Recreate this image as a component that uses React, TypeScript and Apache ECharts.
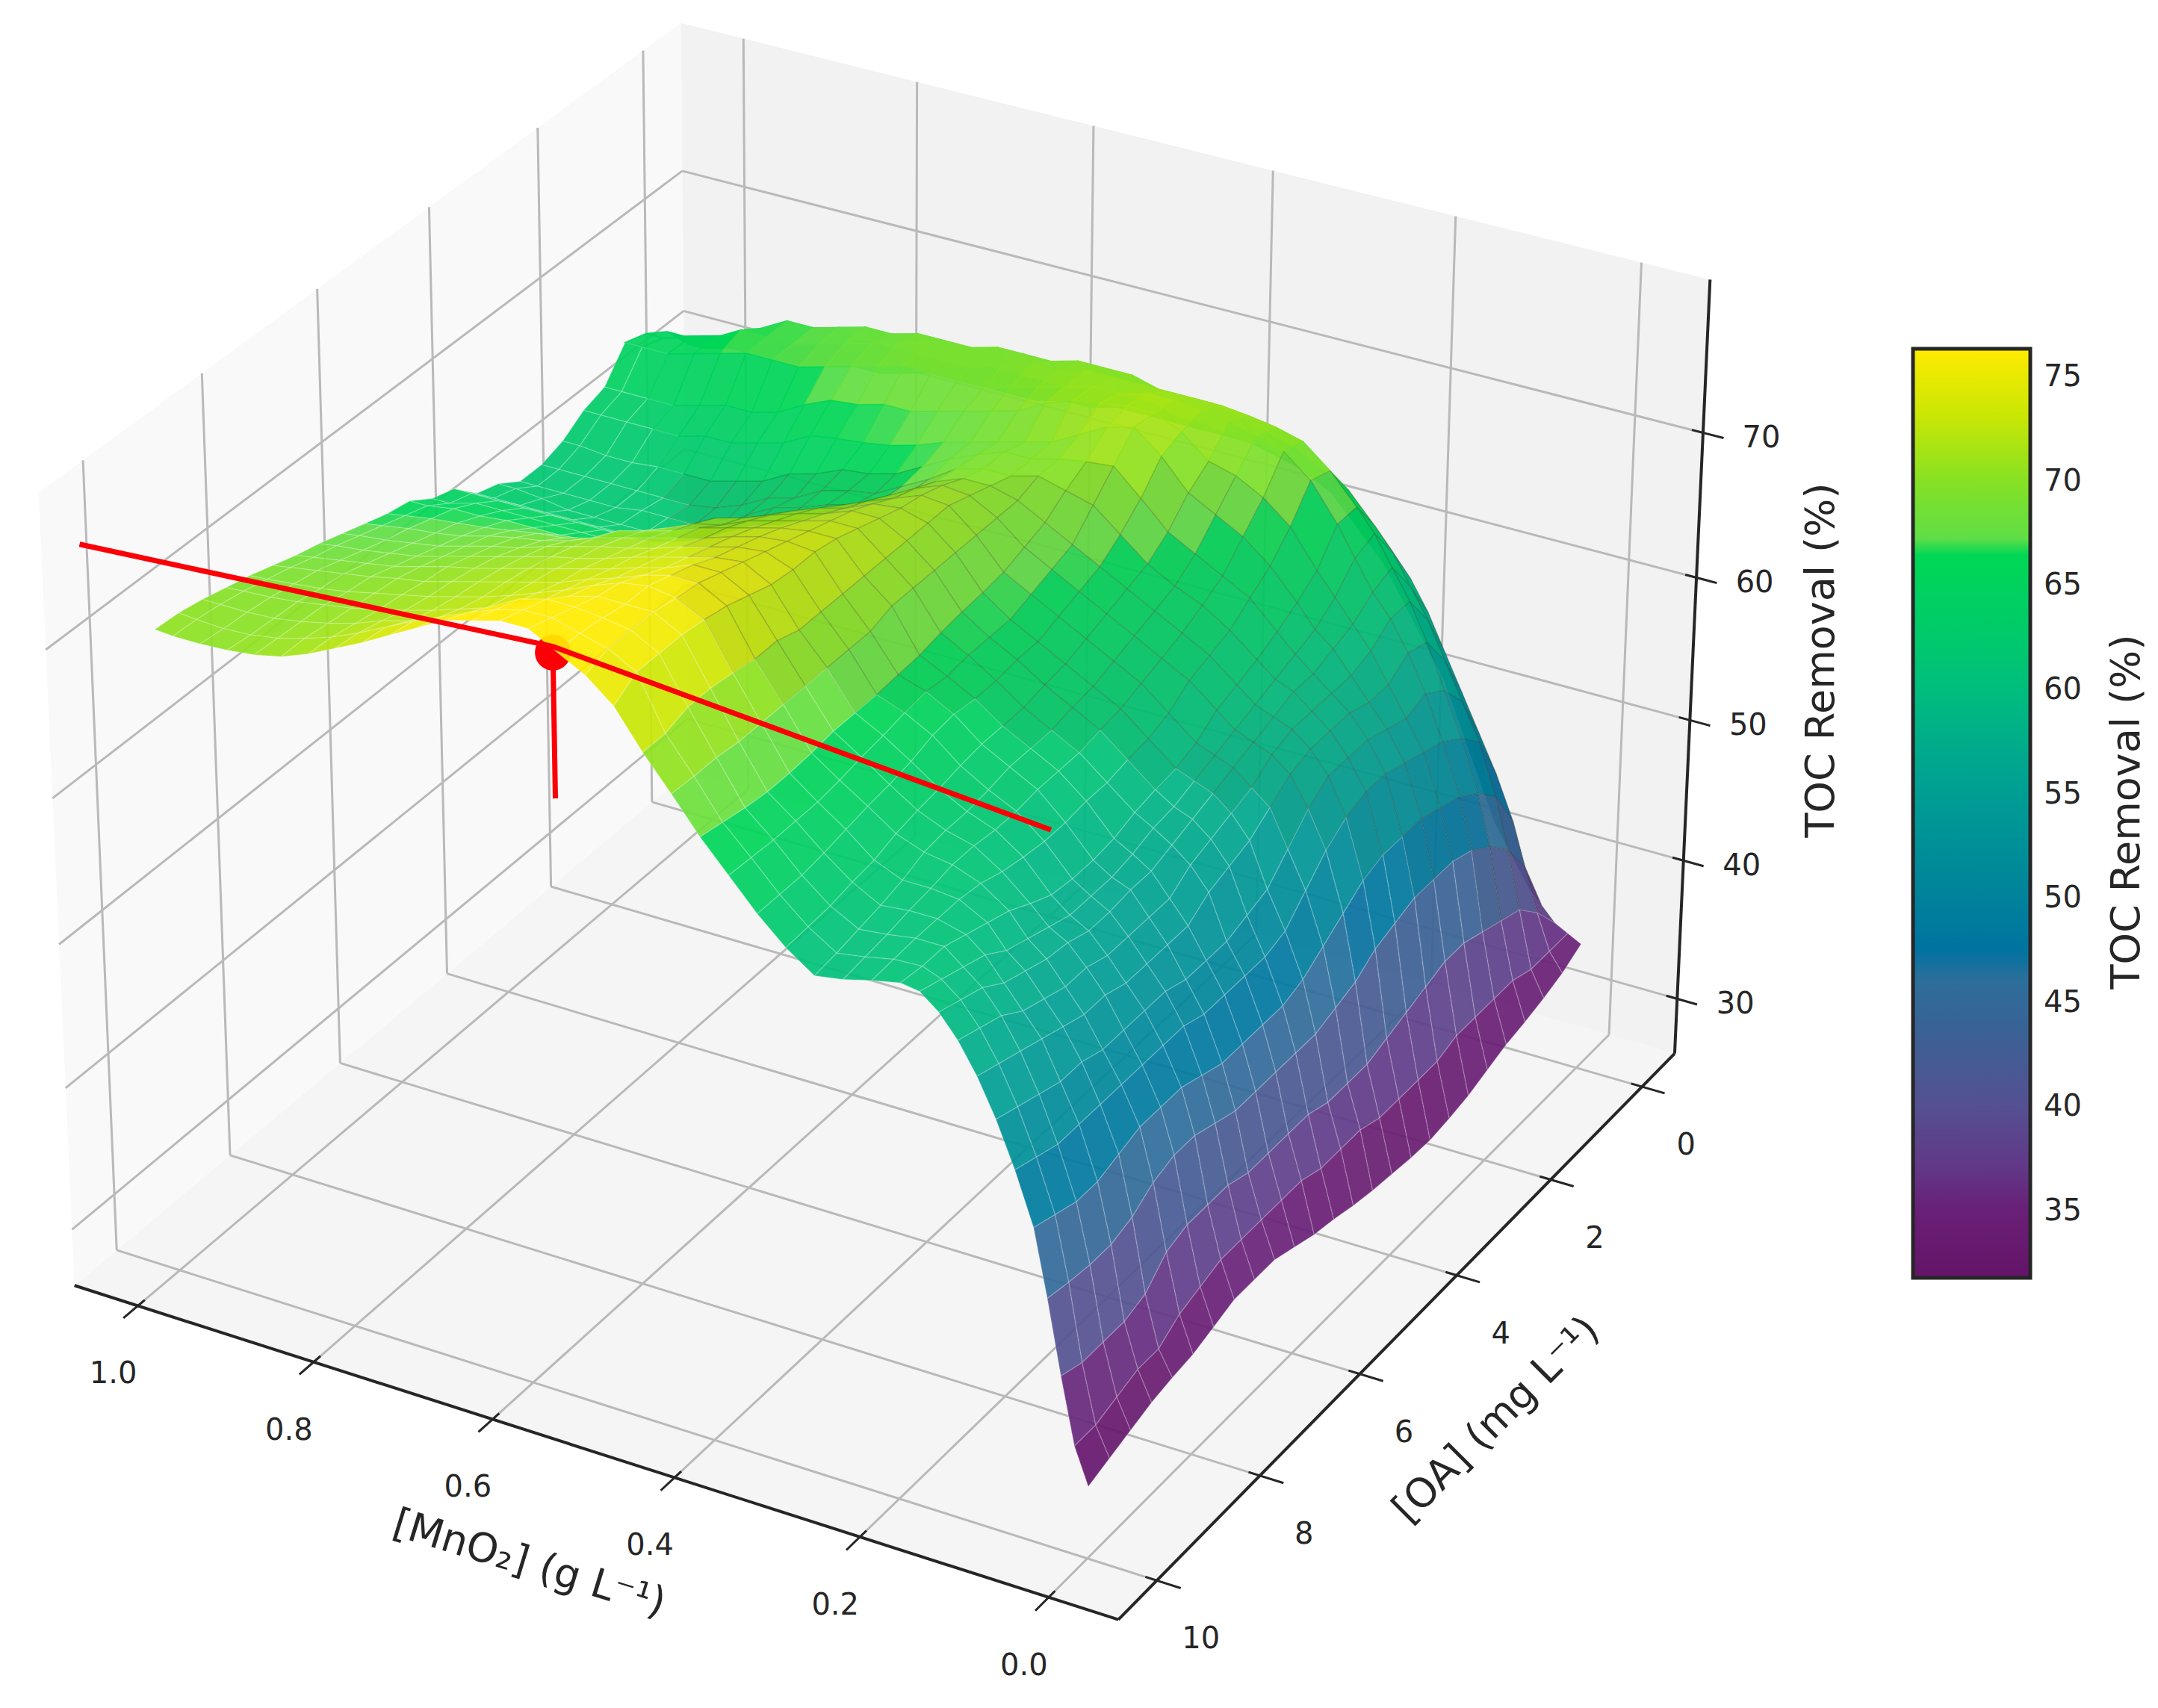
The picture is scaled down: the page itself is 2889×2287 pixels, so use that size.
import React, { useEffect, useRef } from "react";
import * as echarts from "echarts";

const W = 2889, H = 2287;
const xTicks = [0, 0.2, 0.4, 0.6, 0.8, 1.0];
const yTicks = [0, 2, 4, 6, 8, 10];
const zTicks = [30, 40, 50, 60, 70];
const barTicks = [35, 40, 45, 50, 55, 60, 65, 70, 75];
const xLim = [-0.073, 1.073], yLim = [-0.73, 10.73], zLim = [26, 80.4], barLim = [31.74, 76.3];

const mno2 = [0,.015,.03,.045,.06,.08,.1,.12,.14,.16,.18,.2,.23,.26,.29,.32,.35,.38,.41,.44,.47,.5,.53,.56,.59,.62,.65,.68,.71,.74,.77,.8,.83,.86,.89,.92,.95,.98,1];
const oa = [0,.4,.8,1.2,1.6,2,2.4,2.8,3.2,3.6,4,4.4,4.8,5.2,5.6,6,6.4,6.8,7.2,7.6,8,8.4,8.8,9.2,9.6,10];
const toc = [
[35,35.5,36,37,38,40,42,45,48,51, 53,55,58,60,62,63,63.5,64,64,64, 64,64,64,63.5,63.5,63,63,63,63,63, 62.5,62,62,61.5,61,61,61,61,61],
[34.2,35.5,38,41,44,47,49.5,52,54.5,57, 59,60.5,62.5,63.5,64.5,65,65.5,65.5,66,66, 66.5,66.5,66.5,66,66,66,66,65.5,65.5,65.5, 65.5,65.5,65,64.5,64,63,62.5,62,62],
[33.7,35.5,39.5,43.5,47,50.5,53,55.5,58,60, 62,63.5,65.5,66.5,67.5,68,68.5,69,69,69, 69.5,69.5,69.5,69,69,69,68.5,68.5,68.5,68, 68,67.5,67,67,66,65,64.5,64,64],
[33.3,36,40,45,48.5,52,55,58,60.5,62.5, 64.5,66,68,69.5,70,70.3,70.5,70.5,70.5,70.5, 70.5,70.5,70,70,69.5,69.5,69.5,69.5,69,68.5, 68,67.5,67,67,67,66,65.5,65,65],
[33,36,40.5,46,49.5,53,56,58.5,60.5,62, 64,66,68.5,70,70.5,71,71.3,71.5,71.5,71, 71,70.5,70,69.5,69,69,69,69,68.5,68, 67.5,67,67,67,66.5,66,65.5,65.5,65.5],
[32.5,36,41,46.5,50,53.5,55.5,57.5,59.5,61, 62.5,64,66.5,68,69,69.5,71,71.8,71.8,71.5, 71.2,70.5,69.5,69,68.5,68,67.5,67.5,67,66.8, 66,65,64.5,64.5,64,63.5,63.5,63.5,63.5],
[32,36,41,46.5,50.5,54,56,57.5,59,60.5, 61.5,63,65,66.5,67.5,68.5,70.5,72,71.5,70.5, 69.5,69,68.5,68,67.5,66.8,66.3,66,65.8,65.5, 64.5,64,63.5,63.5,63,63,63,63,63],
[31.7,35.5,40.5,46.5,50.5,54.5,56.5,58,59,60, 61,62.2,64,65,66,67,68.8,70.5,70.3,70, 69.5,69.5,68.8,68,67,66,65.5,65.3,64.5,64, 63,62.5,62,62,62,61.8,61.8,62,62],
[31.5,35.5,40,46,50.5,54.5,56.5,58,59,60, 60.5,61.5,63,64.2,65,66,67.5,69,69.5,70, 69.5,69.5,69,67.8,66.8,65.8,65.5,65,64,63.5, 62.5,61.8,61.5,61.5,61.5,61.5,61.5,61.5,61.5],
[31.6,35.5,39.5,45.5,50,54,56.5,58,59,59.5, 60,61,62.5,63.5,64.5,65.5,66.5,67.5,68.5,69.5, 70,70,69.3,68,67,66.2,65.7,65,64.5,63.5, 62.3,61.8,61.8,61.8,61.5,61.5,61.5,61.5,61.5],
[31.8,35.5,39,44.5,49,53,55.5,57.5,58.5,59, 59.5,60.5,62,63,64,65,66,67,68,69.5, 70.5,70.7,70,69,68,67,66,65,64.5,63.5, 62.5,62,62,62,62,62,62.3,62.5,62.5],
[32,36,39,44,48,51.5,54,56.5,57.5,58.5, 59,59.5,61,62.5,63.5,64.5,65.5,66.5,67.5,69.5, 71,71.2,70.5,69.8,69,68,67,66.5,66,65, 63.5,63,63,63,63,63,63,63,63],
[32.3,36,39,43.5,47,50,52.5,55.5,57,58, 58.5,59,60.5,62,63,64,65,66,67.3,69.5, 71,71.5,71.3,70.5,70,69.3,68.5,67.5,66.8,66.3, 65.5,64.5,64.5,64.5,64.5,64.5,64.5,64.5,64.5],
[32.7,36,39.5,43.5,46.5,49.5,52,55,56.5,57.5, 58,58.8,60.3,61.8,62.8,63.8,65,66,67.2,69.5, 71,72,72,71.3,70.8,70.2,69.5,69,68,67, 66.5,65.5,65.5,65.5,65.5,65.5,65.5,65,65],
[33,36.5,39.5,43.5,46.5,49.5,51.5,54.5,56,57, 57.8,58.5,60,61.5,62.5,63.5,64.8,66,67,69.5, 71,72.5,72.5,72,71.5,71,70.2,69.8,69,68.3, 67.5,66.7,66.5,66.5,66.5,66.3,66.3,66,66],
[33.5,36.5,39.5,43.5,46.5,49.5,51.5,53.5,55,56.5, 57.3,58,60,61.5,62.5,63.5,64.8,65.8,66.7,69.5, 71,73,73,72.7,72.2,71.7,71.2,70.5,70,69.5, 68.5,68,67.8,67.5,67.2,67,66.8,66.5,66.3],
[34,36.5,39.5,43.5,46.5,49.5,51.5,53.5,55,56.5, 57,57.8,59.8,61.5,62.5,63.5,65,66,66.6,69, 71,73.3,73.5,73.3,72.8,72.2,71.7,71.2,70.7,70.2, 69.5,69,68.7,68.3,67.8,67.5,67.3,67,66.8],
[34,36.5,40,44,47,50,52,53.5,55,56.3, 57,57.8,59.8,61.3,62.2,63.3,64.8,65.8,66.5,69, 71,73.3,74,73.8,73.3,72.8,72.2,71.7,71.3,70.8, 70.3,69.7,69.3,68.8,68.3,68,67.7,67.5,67.3],
[34,36.5,40,44.5,47.5,50,52,53.5,55,56.3, 57,58,60,61.3,62,63,64.3,65.5,66.5,69, 71,73.5,74.5,74.3,73.8,73.3,72.8,72.2,71.7,71.3, 70.8,70.3,69.8,69.3,68.8,68.5,68.2,68,67.8],
[33.5,36,40,44.5,47.5,50,52,54,55.5,56.8, 57.5,58.7,60.3,61.5,62,62.8,64,65.3,66.5,69, 71.5,74,75,75,74.3,73.8,73.2,72.7,72.2,71.7, 71.2,70.7,70.3,69.8,69.3,69,68.7,68.4,68.2],
[33,35.5,39.5,44,47.5,50,52,54,55.5,57, 58,59.5,60.8,61.5,61.8,62.5,63.8,65,66.3,69, 71.5,74.5,75.5,75.5,75,74.3,73.7,73,72.5,72, 71.5,71,70.5,70.2,69.8,69.5,69.2,68.9,68.7],
[32.8,34.5,38,43,47,50,52.5,54.5,56,57.5, 58.5,60,61,61.2,61.2,62,63.5,64.8,66.2,69, 71.8,74.8,75.7,76,75.7,75,74.2,73.5,72.8,72.2, 71.7,71.2,70.8,70.4,70,69.7,69.5,69.3,69.2],
[32.5,34.5,37.5,42.5,46.5,50,52.5,55,56.5,58, 59.5,60.5,61,61,60.8,61.8,63.2,64.8,66.2,69, 72,75,76,76,76,75.5,74.7,74,73.2,72.6, 72,71.5,71,70.6,70.3,70,69.8,69.7,69.6],
[32,34,37.5,42.5,46.5,50,53,55.5,57.5,59, 60,61,61,60.7,60.5,61.5,63,64.8,66.4,69.2, 72,75,76,76.3,76.5,76.5,76,75,74,73.2, 72.5,72,71.3,70.8,70.4,70.1,70,70,70],
[31.5,33.5,37.5,42.7,47,50.5,53.5,56,58,59.5, 60.5,61,60.9,60.5,60.2,61.4,63,64.9,66.7,69.2, 71.5,75,76,76.5,77,77,76.5,75.8,75,74.2, 73.3,72.4,71.6,71,70.5,70.2,70.1,70.2,70.3],
[31,33.5,38,43,47.5,51,54,56.5,58.5,60, 61,61.2,60.8,60.3,60,61.3,63,65,67,69.3, 71.5,74,75.5,76.5,77.5,77.5,77,76.5,75.5,74.5, 73.5,72.6,71.7,71,70.6,70.4,70.3,70.3,70.4],
];
const optimumLine = [[1.13, 9.3, 71.8], [0.608, 9.3, 73.9], [0.085, 9.3, 71.1]];
const optimum = [0.608, 9.3, 73.5];
const stemBottom = 63.8;

// colormap of the reference: value, r, g, b
const cmap = [
  [31.74, 100, 20, 105], [35, 105, 32, 118], [37, 98, 55, 135], [40, 85, 80, 145], [44, 55, 100, 150],
  [46, 45, 110, 155], [47.5, 0, 115, 160], [50, 0, 130, 155], [55, 0, 158, 148], [57, 0, 170, 140], [60, 0, 190, 125],
  [62, 0, 200, 110], [66.4, 0, 215, 85], [67.2, 95, 222, 70], [70, 135, 225, 35], [73, 200, 230, 5], [76.3, 255, 235, 0],
];

function colorOf(v: number, k = 1) {
  let i = 0;
  while (i < cmap.length - 2 && v > cmap[i + 1][0]) i++;
  const a = cmap[i], b = cmap[i + 1];
  const t = Math.max(0, Math.min(1, (v - a[0]) / (b[0] - a[0])));
  const c = [1, 2, 3].map((n) => Math.round((a[n] + (b[n] - a[n]) * t) * k));
  return `rgb(${c[0]},${c[1]},${c[2]})`;
}

// camera calibration: cube position -> picture position
const calib: number[][] = [
  [xLim[1], yLim[1], zLim[0], 99.5, 1716], [xLim[0], yLim[1], zLim[0], 1499, 2172], [xLim[0], yLim[0], zLim[0], 2243, 1408],
  [xLim[0], yLim[0], zLim[1], 2289, 384], [xLim[1], yLim[1], zLim[1], 50.5, 662], [xLim[1], yLim[0], zLim[1], 912, 34],
  [xLim[1], yLim[0], zLim[0], 918, 1046],
  [1, yLim[1], zLim[0], 184, 1744], [.8, yLim[1], zLim[0], 421, 1820], [.6, yLim[1], zLim[0], 657.5, 1899],
  [.4, yLim[1], zLim[0], 904, 1978], [.2, yLim[1], zLim[0], 1153, 2058], [0, yLim[1], zLim[0], 1404, 2143],
  [xLim[0], 0, zLim[0], 2195, 1454], [xLim[0], 2, zLim[0], 2074.5, 1580], [xLim[0], 4, zLim[0], 1948, 1708],
  [xLim[0], 6, zLim[0], 1819, 1841], [xLim[0], 8, zLim[0], 1687, 1977], [xLim[0], 10, zLim[0], 1548, 2118],
  [xLim[0], yLim[0], 30, 2248, 1331], [xLim[0], yLim[0], 40, 2254, 1149], [xLim[0], yLim[0], 50, 2263, 962],
  [xLim[0], yLim[0], 60, 2272, 771], [xLim[0], yLim[0], 70, 2280, 579],
  [xLim[1], 0, zLim[0], 875, 1072], [xLim[1], 2, zLim[0], 740, 1197], [xLim[1], yLim[0], 70, 914, 222], [xLim[1], yLim[0], 60, 914, 409],
];
const norm = (x: number, y: number, z: number) => [
  (x - xLim[0]) / (xLim[1] - xLim[0]), (y - yLim[0]) / (yLim[1] - yLim[0]), (z - zLim[0]) / (zLim[1] - zLim[0]),
];
function solveCamera() {
  const n = 11;
  const A = Array.from({ length: n }, () => new Array(n + 1).fill(0));
  const add = (r: number[], b: number) => {
    for (let i = 0; i < n; i++) { for (let j = 0; j < n; j++) A[i][j] += r[i] * r[j]; A[i][n] += r[i] * b; }
  };
  calib.forEach(([x, y, z, px, py]) => {
    const [u, v, w] = norm(x, y, z);
    const a = px / 1000, b = py / 1000;
    add([u, v, w, 1, 0, 0, 0, 0, -a * u, -a * v, -a * w], a);
    add([0, 0, 0, 0, u, v, w, 1, -b * u, -b * v, -b * w], b);
  });
  for (let c = 0; c < n; c++) {
    let p = c;
    for (let r = c + 1; r < n; r++) if (Math.abs(A[r][c]) > Math.abs(A[p][c])) p = r;
    [A[c], A[p]] = [A[p], A[c]];
    for (let r = 0; r < n; r++) {
      if (r === c) continue;
      const f = A[r][c] / A[c][c];
      for (let k = c; k <= n; k++) A[r][k] -= f * A[c][k];
    }
  }
  return A.map((row, i) => row[n] / row[i]);
}
const cam = solveCamera();
function proj(x: number, y: number, z: number) {
  const [u, v, w] = norm(x, y, z);
  const d = cam[8] * u + cam[9] * v + cam[10] * w + 1;
  return [1000 * (cam[0] * u + cam[1] * v + cam[2] * w + cam[3]) / d, 1000 * (cam[4] * u + cam[5] * v + cam[6] * w + cam[7]) / d];
}

// the reference renders one part of the sheet darker, with a dark mesh: its outline in the picture
const lineC = [[955, 909], [1134, 920], [1261, 942], [1363, 972], [1500, 1010], [2113, 1257]];
const lineA = [[851, 454], [876, 527], [922, 711], [953, 910]];
const meshStart = 640;
function along(line: number[][], t: number, a: number, b: number) {
  for (let i = 0; i < line.length - 1; i++) {
    if (t <= line[i + 1][a] || i === line.length - 2) {
      return line[i][b] + ((t - line[i][a]) / (line[i + 1][a] - line[i][a])) * (line[i + 1][b] - line[i][b]);
    }
  }
  return 0;
}
const inDarkPart = (p: number[]) => p[1] < along(lineC, p[0], 0, 1) && p[0] > along(lineA, p[1], 1, 0);

const [x0, x1] = xLim, [y0, y1] = yLim, [z0, z1] = zLim;
type Seg = { a: number[]; b: number[]; color: string; width: number };
const gridColor = "#b9b9b9", inkColor = "#262626", red = "#fb0007";
const segs: Seg[] = [];
const seg = (a: number[], b: number[], color = gridColor, width = 3) => segs.push({ a, b, color, width });
xTicks.forEach((t) => {
  seg(proj(t, y0, z0), proj(t, y1, z0));
  seg(proj(t, y0, z0), proj(t, y0, z1));
});
yTicks.forEach((t) => {
  seg(proj(x0, t, z0), proj(x1, t, z0));
  seg(proj(x1, t, z0), proj(x1, t, z1));
});
zTicks.forEach((t) => {
  seg(proj(x0, y0, t), proj(x1, y0, t));
  seg(proj(x1, y0, t), proj(x1, y1, t));
});
seg(proj(x1, y1, z0), proj(x0, y1, z0), inkColor, 4);
seg(proj(x0, y1, z0), proj(x0, y0, z0), inkColor, 4);
seg(proj(x0, y0, z0), proj(x0, y0, z1), inkColor, 4);
xTicks.forEach((t) => seg(proj(t, y1 - 0.12, z0), proj(t, y1 + 0.25, z0), inkColor, 3));
yTicks.forEach((t) => seg(proj(x0 + 0.012, t, z0), proj(x0 - 0.025, t, z0), inkColor, 3));
zTicks.forEach((t) => seg(proj(x0 + 0.012, y0, t), proj(x0 - 0.022, y0, t), inkColor, 3));

const panes = [
  { pts: [proj(x0, y0, z0), proj(x1, y0, z0), proj(x1, y1, z0), proj(x0, y1, z0)], fill: "#f5f5f5" },
  { pts: [proj(x1, y0, z0), proj(x1, y1, z0), proj(x1, y1, z1), proj(x1, y0, z1)], fill: "#f9f9f9" },
  { pts: [proj(x0, y0, z0), proj(x1, y0, z0), proj(x1, y0, z1), proj(x0, y0, z1)], fill: "#f2f2f2" },
];

// facets, far ones first
const facets: { pts: number[][]; fill: string; stroke: string }[] = [];
for (let i = mno2.length - 2; i >= 0; i--) {
  for (let j = 0; j < oa.length - 1; j++) {
    const c = [[i, j], [i + 1, j], [i + 1, j + 1], [i, j + 1]];
    const pts = c.map(([a, b]) => proj(mno2[a], oa[b], toc[b][a]));
    const mean = c.reduce((s, [a, b]) => s + toc[b][a], 0) / 4;
    const mid = [pts.reduce((s, p) => s + p[0], 0) / 4, pts.reduce((s, p) => s + p[1], 0) / 4];
    const dark = inDarkPart(mid);
    const meshed = mid[1] > meshStart;
    const fill = colorOf(mean, dark && meshed ? 0.95 : 1);
    facets.push({ pts, fill, stroke: dark ? (meshed ? "rgba(70,70,40,0.22)" : fill) : "rgba(255,255,255,0.2)" });
  }
}

type Label = { text: string; p: number[]; size: number; rot: number };
const labels: Label[] = [];
xTicks.forEach((t) => { const p = proj(t, y1, z0); labels.push({ text: t.toFixed(1), p: [p[0] - 33, p[1] + 90], size: 40, rot: 0 }); });
yTicks.forEach((t) => { const p = proj(x0, t, z0); labels.push({ text: String(t), p: [p[0] + 59, p[1] + 77], size: 40, rot: 0 }); });
zTicks.forEach((t) => { const p = proj(x0, y0, t); labels.push({ text: String(t), p: [p[0] + 78, p[1] + 6], size: 40, rot: 0 }); });
labels.push({ text: "[MnO₂] (g L⁻¹)", p: [709, 2092], size: 54, rot: -17 });
labels.push({ text: "[OA] (mg L⁻¹)", p: [2002, 1900], size: 54, rot: 45 });
labels.push({ text: "TOC Removal (%)", p: [2436, 884], size: 54, rot: 90 });
labels.push({ text: "TOC Removal (%)", p: [2845, 1087], size: 54, rot: 90 });

const font = "DejaVu Sans";
const idx = (a: unknown[]) => a.map((_, i) => [i]);
const base = { type: "custom", xAxisIndex: 0, yAxisIndex: 0, silent: true, clip: false };

export default function App() {
  const ref = useRef<HTMLDivElement>(null);
  useEffect(() => {
    document.body.style.margin = "0";
    const chart = echarts.init(ref.current!, undefined, { renderer: "svg" });
    const stops = [...cmap].reverse().map((s) => ({
      offset: (barLim[1] - s[0]) / (barLim[1] - barLim[0]), color: `rgb(${s[1]},${s[2]},${s[3]})`,
    }));
    chart.setOption({
      animation: false,
      backgroundColor: "#ffffff",
      grid: [
        { left: 0, top: 0, width: W, height: H },
        { left: 2561, top: 467, width: 157, height: 1244 },
      ],
      xAxis: [
        { type: "value", gridIndex: 0, min: 0, max: W, show: false },
        { type: "value", gridIndex: 1, min: 0, max: 1, show: false },
      ],
      yAxis: [
        { type: "value", gridIndex: 0, min: 0, max: H, inverse: true, show: false },
        {
          type: "value", gridIndex: 1, min: barLim[0], max: barLim[1], position: "right",
          splitLine: { show: false },
          axisLine: { show: false },
          axisTick: { show: true, length: 28, lineStyle: { color: inkColor, width: 3 }, customValues: barTicks },
          axisLabel: { show: true, fontFamily: font, fontSize: 40, color: inkColor, margin: 18, customValues: barTicks },
        },
      ],
      series: [
        {
          ...base, data: idx(panes),
          renderItem: (p: any, api: any) => ({
            type: "polygon", shape: { points: panes[p.dataIndex].pts.map((q) => api.coord(q)) },
            style: { fill: panes[p.dataIndex].fill, stroke: "none" },
          }),
        },
        {
          ...base, data: idx(segs),
          renderItem: (p: any, api: any) => {
            const s = segs[p.dataIndex]; const a = api.coord(s.a), b = api.coord(s.b);
            return { type: "line", shape: { x1: a[0], y1: a[1], x2: b[0], y2: b[1] }, style: { stroke: s.color, lineWidth: s.width } };
          },
        },
        {
          ...base, data: [[0]],
          renderItem: (_p: any, api: any) => {
            const a = api.coord(proj(optimum[0], optimum[1], optimum[2]));
            const b = api.coord(proj(optimum[0], optimum[1], stemBottom));
            return {
              type: "group", children: [
                { type: "line", shape: { x1: a[0], y1: a[1], x2: b[0], y2: b[1] }, style: { stroke: red, lineWidth: 7 } },
                { type: "circle", shape: { cx: a[0], cy: a[1], r: 24 }, style: { fill: red } },
              ],
            };
          },
        },
        {
          ...base, data: idx(facets),
          renderItem: (p: any, api: any) => {
            const f = facets[p.dataIndex];
            return { type: "polygon", shape: { points: f.pts.map((q) => api.coord(q)) }, style: { fill: f.fill, stroke: f.stroke, lineWidth: 1.5, opacity: 0.92 } };
          },
        },
        {
          ...base, data: [[0]],
          renderItem: (_p: any, api: any) => ({
            type: "polyline",
            shape: { points: optimumLine.map((q) => api.coord(proj(q[0], q[1], q[2]))) },
            style: { stroke: red, lineWidth: 7, fill: "none" },
          }),
        },
        {
          ...base, data: idx(labels),
          renderItem: (p: any, api: any) => {
            const l = labels[p.dataIndex]; const a = api.coord(l.p);
            return {
              type: "text", x: a[0], y: a[1], rotation: (l.rot * Math.PI) / 180,
              style: { text: l.text, fill: inkColor, fontFamily: font, fontSize: l.size, align: "center", verticalAlign: "middle" },
            };
          },
        },
        {
          type: "custom", xAxisIndex: 1, yAxisIndex: 1, silent: true, data: [[0]],
          renderItem: (_p: any, api: any) => {
            const a = api.coord([0, barLim[1]]), b = api.coord([1, barLim[0]]);
            return {
              type: "rect", shape: { x: a[0], y: a[1], width: b[0] - a[0], height: b[1] - a[1] },
              style: { fill: new echarts.graphic.LinearGradient(0, 0, 0, 1, stops), stroke: "#262626", lineWidth: 5 },
            };
          },
        },
      ],
    });
    return () => chart.dispose();
  }, []);
  return <div ref={ref} style={{ width: W, height: H }} />;
}
